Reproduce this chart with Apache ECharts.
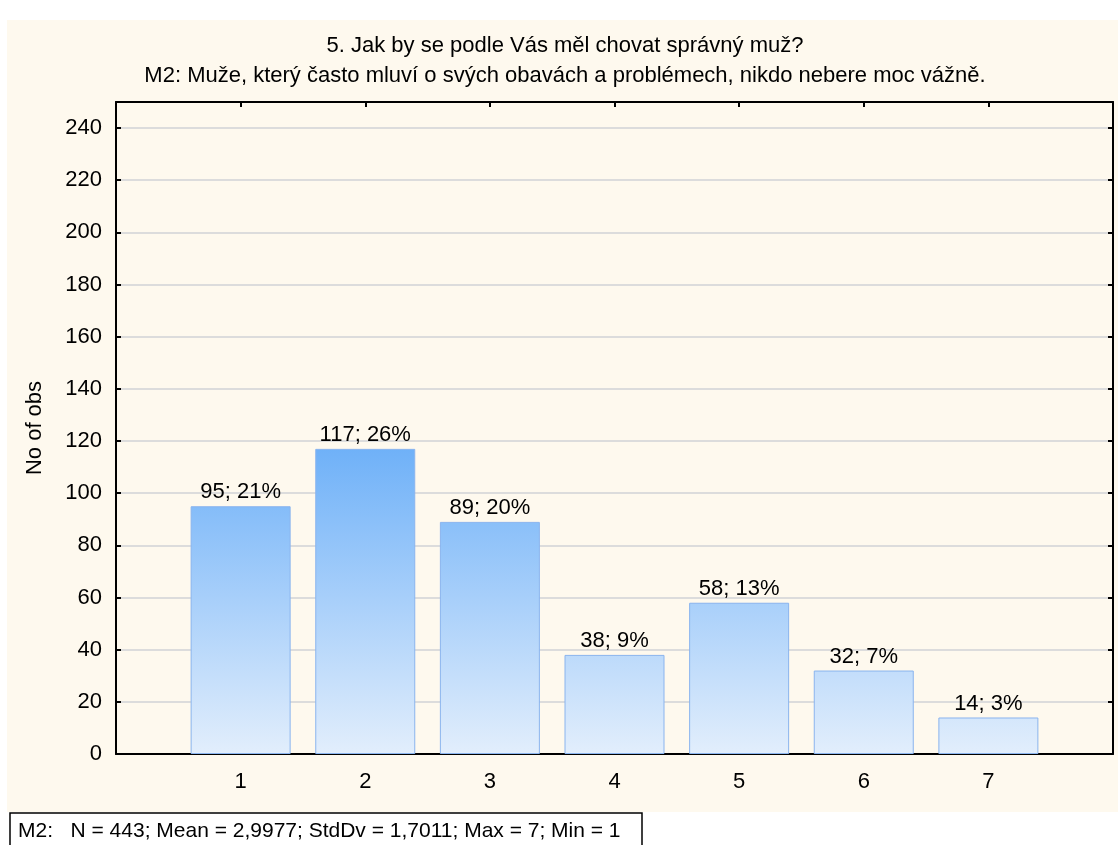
<!DOCTYPE html>
<html>
<head>
<meta charset="utf-8">
<script src="https://cdn.jsdelivr.net/npm/echarts@6/dist/echarts.min.js"></script>
<style>
    html, body { margin: 0; padding: 0; background: #ffffff; }
    #chart { width: 1118px; height: 845px; }
</style>
</head>
<body>
<div id="chart"></div>
<script>
// MARK: - Data

const categories = [1, 2, 3, 4, 5, 6, 7];
const counts = [95, 117, 89, 38, 58, 32, 14];
const percents = [21, 26, 20, 9, 13, 7, 3];
const yTicks = [0, 20, 40, 60, 80, 100, 120, 140, 160, 180, 200, 220, 240];

const titleLines = [
    "5. Jak by se podle Vás měl chovat správný muž?",
    "M2: Muže, který často mluví o svých obavách a problémech, nikdo nebere moc vážně."
];
const statsText = "M2:   N = 443; Mean = 2,9977; StdDv = 1,7011; Max = 7; Min = 1";

const font = "'Liberation Sans', Arial, sans-serif";

// MARK: - Chart

let chartDom = document.getElementById('chart');
let chart = echarts.init(chartDom, null, {renderer: 'canvas'});

let barData = categories.map((c, i) => [c, counts[i]]);

function axisCommon() {
    return {
        axisLine: {show: true, onZero: false, lineStyle: {color: '#000', width: 2}},
        axisTick: {show: true, inside: true, length: 5, lineStyle: {color: '#000', width: 2}},
    };
}

let option = {
    backgroundColor: '#ffffff',
    animation: false,
    textStyle: {fontFamily: font},
    graphic: [
        {
            type: 'rect',
            z: -10,
            silent: true,
            shape: {x: 7, y: 20, width: 1111, height: 792},
            style: {fill: '#fef9ee'}
        },
        {
            type: 'text',
            x: 565,
            y: 31,
            style: {
                text: titleLines.join('\n'),
                font: '22px ' + font,
                fill: '#000',
                align: 'center',
                lineHeight: 30
            }
        },
        {
            type: 'group',
            x: 10,
            y: 813,
            children: [
                {
                    type: 'rect',
                    shape: {x: 0, y: 0, width: 632, height: 34},
                    style: {fill: '#fff', stroke: '#000', lineWidth: 1.5}
                },
                {
                    type: 'text',
                    x: 8, y: 8,
                    style: {text: statsText, font: '21px ' + font, fill: '#000'}
                }
            ]
        }
    ],
    grid: {left: 116, right: 5, top: 102, bottom: 91},
    xAxis: [
        Object.assign({
            type: 'value',
            min: 0,
            max: 8,
            interval: 1,
            splitLine: {show: false},
            axisLabel: {
                fontSize: 22,
                color: '#000',
                margin: 17,
                formatter: v => (v >= 1 && v <= 7) ? String(v) : ''
            }
        }, axisCommon()),
        Object.assign({
            type: 'value',
            position: 'top',
            min: 0,
            max: 8,
            interval: 1,
            splitLine: {show: false},
            axisLabel: {show: false}
        }, axisCommon())
    ],
    yAxis: [
        Object.assign({
            type: 'value',
            min: 0,
            max: 250,
            interval: 20,
            name: 'No of obs',
            nameLocation: 'middle',
            nameGap: 70,
            nameTextStyle: {fontSize: 22, color: '#000'},
            splitLine: {show: true, lineStyle: {color: '#dcdcdc', width: 2}},
            axisLabel: {
                fontSize: 22,
                color: '#000',
                margin: 14,
                showMaxLabel: false,
                formatter: v => yTicks.includes(v) ? String(v) : ''
            }
        }, axisCommon()),
        Object.assign({
            type: 'value',
            position: 'right',
            min: 0,
            max: 250,
            interval: 20,
            splitLine: {show: false},
            axisLabel: {show: false}
        }, axisCommon())
    ],
    series: [
        {
            type: 'bar',
            xAxisIndex: 0,
            yAxisIndex: 0,
            barWidth: 100,
            data: barData,
            itemStyle: {
                color: '#a9d0fa',
                borderColor: '#8ab4ee',
                borderWidth: 1
            },
            label: {
                show: true,
                position: 'top',
                distance: 3,
                fontSize: 22,
                color: '#000',
                formatter: p => counts[p.dataIndex] + '; ' + percents[p.dataIndex] + '%'
            }
        }
    ]
};

chart.setOption(option);

// gradient over the whole plot: darkest at the tallest bar, lightest at 0
let yTop = chart.convertToPixel({yAxisIndex: 0}, Math.max(...counts));
let yBottom = chart.convertToPixel({yAxisIndex: 0}, 0);
chart.setOption({
    series: [{
        itemStyle: {
            color: new echarts.graphic.LinearGradient(0, yTop, 0, yBottom, [
                {offset: 0, color: '#6fb1f8'},
                {offset: 1, color: '#e2eefc'}
            ], true)
        }
    }]
});
</script>
</body>
</html>
